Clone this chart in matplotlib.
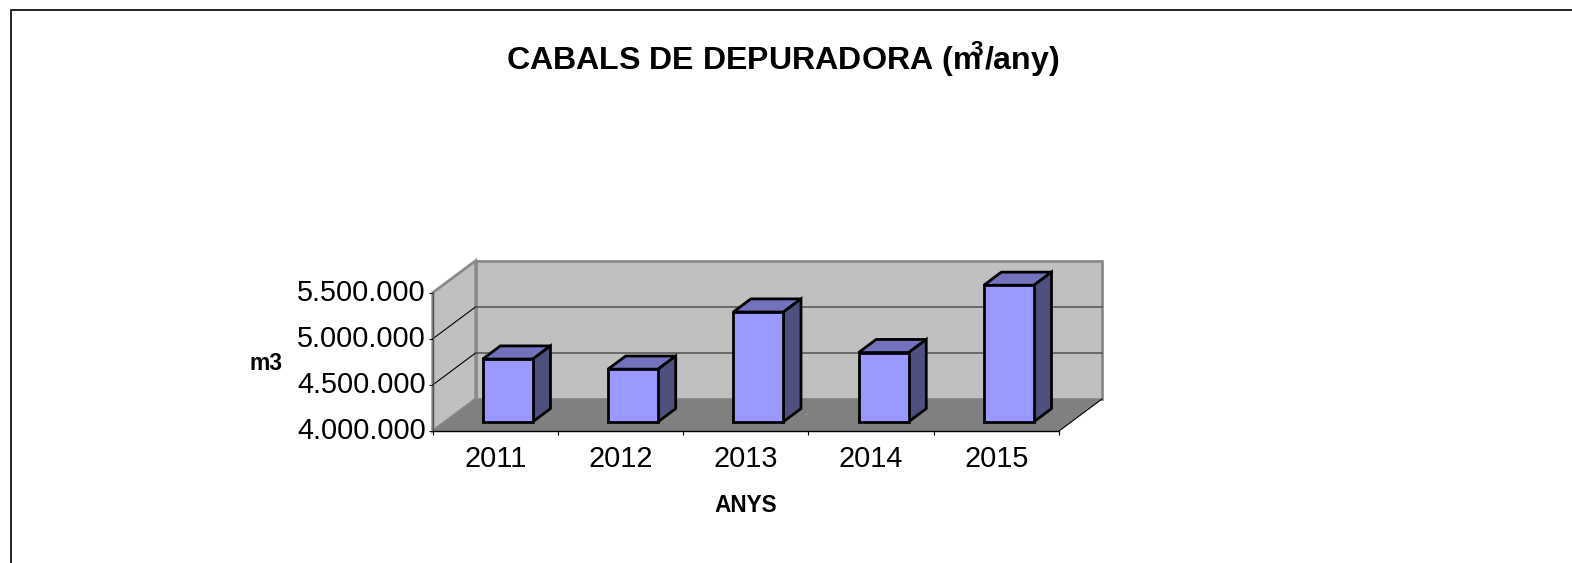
import matplotlib
matplotlib.use('Agg')
import matplotlib.pyplot as plt
from matplotlib.patches import Polygon
from matplotlib.transforms import ScaledTranslation

# Datos
years = ['2011', '2012', '2013', '2014', '2015']
caudal = [4680000, 4570000, 5190000, 4750000, 5480000]
yticks = [4000000, 4500000, 5000000, 5500000]
ytick_labels = ['4.000.000', '4.500.000', '5.000.000', '5.500.000']

W, H = 1572, 563
plt.rcParams['font.family'] = ['Liberation Sans', 'DejaVu Sans']
plt.rcParams['mathtext.fontset'] = 'custom'
plt.rcParams['mathtext.rm'] = 'Liberation Sans:bold'

fig = plt.figure(figsize=(W/100, H/100), dpi=100)

# Front plane of the chart box, in pixels
left, right, top, bottom = 432.7, 1059, 292.7, 431
ax = fig.add_axes([left/W, 1-bottom/H, (right-left)/W, (bottom-top)/H])
ax.set_xlim(-0.5, 4.5)
ax.set_ylim(4000000, 5500000)

# 3D offsets
dx = 43/(right-left)*5
dy = 32/(bottom-top)*1500000
ymin, ymax = 4000000, 5500000
x0, x1 = -0.5, 4.5

def proj(x, v, d):
    return (x + d*dx, v + d*dy)

def poly(pts, face, edge='none', lw=0, z=1):
    ax.add_patch(Polygon(pts, closed=True, facecolor=face, edgecolor=edge, lw=lw,
                         clip_on=False, zorder=z, joinstyle='miter'))

# walls and floor
poly([proj(x0, ymin, 1), proj(x1, ymin, 1), proj(x1, ymax, 1), proj(x0, ymax, 1)], '#C0C0C0', '#8A8A8A', 2, 1)
poly([proj(x0, ymin, 0), proj(x0, ymin, 1), proj(x0, ymax, 1), proj(x0, ymax, 0)], '#C0C0C0', '#8A8A8A', 2, 1)
poly([proj(x0, ymin, 0), proj(x1, ymin, 0), proj(x1, ymin, 1), proj(x0, ymin, 1)], '#808080', z=1.5)

# gridlines
for v in yticks[1:3]:
    a, b, c = proj(x0, v, 0), proj(x0, v, 1), proj(x1, v, 1)
    ax.plot([a[0], b[0]], [a[1], b[1]], color='black', lw=0.8, clip_on=False, zorder=2)
    ax.plot([b[0], c[0]], [b[1], c[1]], color='#505050', lw=1.1, clip_on=False, zorder=2)
a, b = proj(x1, ymin, 0), proj(x1, ymin, 1)
ax.plot([a[0], b[0]], [a[1], b[1]], color='black', lw=0.8, clip_on=False, zorder=2)

# bars
bw = 0.2
d0, d1 = 0.29, 0.70
for i, val in enumerate(caudal):
    l, r = i - bw, i + bw
    poly([proj(l, val, d0), proj(r, val, d0), proj(r, val, d1), proj(l, val, d1)], '#7373BD', 'black', 2, 3)
    poly([proj(r, ymin, d0), proj(r, ymin, d1), proj(r, val, d1), proj(r, val, d0)], '#4F4F80', 'black', 2, 3)
    poly([proj(l, ymin, d0), proj(r, ymin, d0), proj(r, val, d0), proj(l, val, d0)], '#9999FF', 'black', 2, 3)

# axes
for s in ['top', 'right']:
    ax.spines[s].set_visible(False)
ax.patch.set_visible(False)
ax.spines['left'].set_color('#505050')
for s in ['left', 'bottom']:
    ax.spines[s].set_linewidth(1)
    ax.spines[s].set_zorder(4)
ax.set_yticks(yticks)
ax.set_yticklabels(ytick_labels, fontsize=20.8)
ax.set_xticks([x - 0.5 for x in range(6)])
ax.set_xticklabels([])
ax.set_xticks(range(5), years, minor=True, fontsize=20.8)
ax.tick_params(axis='x', which='major', length=3, width=0.8)
ax.tick_params(axis='x', which='minor', length=0, pad=10)
ax.tick_params(axis='y', length=3, width=0.8, pad=2)
up = ScaledTranslation(0, 2/72, fig.dpi_scale_trans)
for t in ax.get_yticklabels():
    t.set_transform(t.get_transform() + up)

fig.text(266/W, 1-363/H, 'm3', fontsize=16.5, fontweight='bold', ha='center', va='center')
fig.text(746/W, 1-506/H, 'ANYS', fontsize=16.3, fontweight='bold', ha='center', va='center')
fig.text(783/W, 1-59/H, r'CABALS DE DEPURADORA (m$\!\!^{\mathrm{3}}$/any)', fontsize=23.1,
         fontweight='bold', ha='center', va='center')

# page border
fig.add_artist(plt.Line2D([11/W, 11/W, 1], [0, 1-10/H, 1-10/H], color='#222222', lw=1.4))

fig.savefig('out.png', dpi=100)
